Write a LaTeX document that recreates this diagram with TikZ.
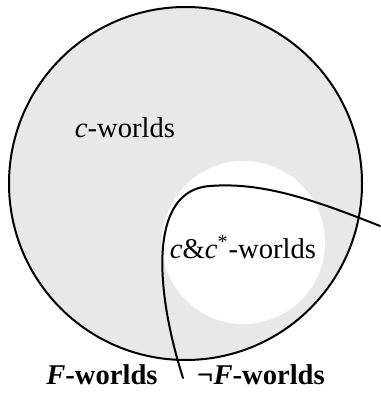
\documentclass[tikz,border=0pt]{standalone}
\usepackage{fontspec}
\setmainfont{Liberation Serif}
\definecolor{worldgray}{HTML}{E8E8E8}
\begin{document}
\begin{tikzpicture}[x=0.5pt, y=-0.5pt, line width=1pt, line join=round, line cap=round,
		font=\fontsize{14.3}{17}\selectfont]
				\useasboundingbox (0,0) rectangle (380,412);
				\draw[fill=worldgray] (185.5,183.5) circle[radius=176.5];
				\fill[white] (243.5,242.5) circle[radius=81.5];
				\draw (183,378) .. controls (155,290) and (148,190) .. (210,186)
					.. controls (260,182) and (310,198) .. (380,226);
				\node (cw) at (125,128) {\textit{c}-worlds};
				\node (ccw) at (243,247) {\textit{c}\&\textit{c}\textsuperscript{*}-worlds};
				\node (fw) at (102,375) {\bfseries\textit{F}-worlds};
				\node (nfw) at (261,375) {\bfseries ¬\textit{F}-worlds};
		\end{tikzpicture}
\end{document}
